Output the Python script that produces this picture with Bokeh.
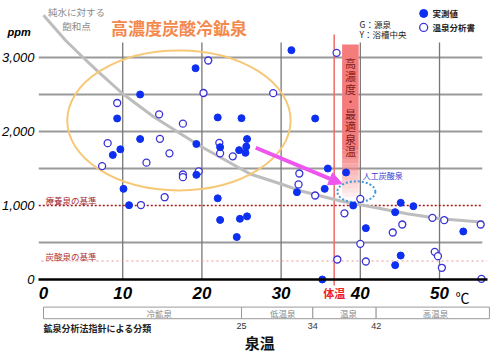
import numpy as np
from bokeh.plotting import figure
from bokeh.models import Range1d, FixedTicker, NumeralTickFormatter, Arrow, NormalHead
from bokeh.core.properties import value
from bokeh.embed import file_html
from bokeh.resources import INLINE

# ---------------- data ----------------
measured_temp = [9.3, 12.2, 19.2, 12.2, 19.3, 9.7, 8.75, 10.1, 10.8, 19.3, 31.3, 22.0, 25.0,
                 34.3, 25.7, 22.3, 25.6, 24.7, 25.5, 35.9, 38.2, 32.0, 35.5, 22.0, 22.3, 24.8,
                 25.7, 24.4, 35.2, 39.1, 45.1, 46.7, 44.4, 40.7, 53.0, 45.1, 44.4]
measured_co2 = [2176, 2500, 2855, 1898, 1831, 1759, 1683, 1225, 1004, 1414, 3099, 2190, 2180,
                2176, 1898, 1788, 1797, 1748, 1712, 1500, 1446, 1180, 1225, 1097, 805, 820,
                853, 574, 0, 1000, 1036, 991, 910, 694, 649, 324, 194]
report_temp = [20.8, 20.2, 9.3, 14.6, 17.6, 8.1, 14.7, 15.9, 13.0, 7.4, 17.6, 17.6, 19.6,
               15.3, 12.3, 37.0, 29.0, 22.2, 22.3, 23.9, 32.3, 32.2, 34.3, 38.0, 37.1, 40.0,
               49.1, 50.6, 55.2, 45.3, 44.1, 40.0, 49.4, 49.8, 40.7, 50.3, 55.3]
report_co2 = [2959, 2520, 2385, 2232, 2106, 1842, 1901, 1705, 1579, 1532, 1419, 1383, 1461,
              1112, 1006, 3063, 2518, 1847, 1705, 1664, 1432, 1284, 1135, 894, 270, 1090,
              833, 802, 743, 743, 635, 482, 374, 315, 243, 158, 9]
sat_temp = [0, 2.8, 5, 7, 10, 13.9, 17.3, 20, 24, 26.1, 30, 32.4, 37.5, 41.7, 45.9, 50.1, 55.6]
sat_co2 = [3570, 3230, 3000, 2800, 2510, 2200, 1970, 1790, 1550, 1425, 1290, 1200, 1060, 977, 888, 820, 772]

x_ticks = [0, 10, 20, 30, 40, 50]
y_ticks = [0, 1000, 2000, 3000]
grid_h = [500, 1500, 2000, 2500, 3000]
grid_v = [10, 20, 30, 40, 50]
class_bounds = [0, 25, 34, 42, 56.3]
class_names = ["冷鉱泉", "低温泉", "温泉", "高温泉"]
class_label_x = [14.6, 30.2, 38.5, 49.5]
class_tick_vals = [25, 34, 42]
class_tick_labels = ["25", "34", "42"]
medical_std = 1000
carbonated_std = 250
body_temp = 36.7
band_left, band_right = 37.7, 39.8
band_chars = ["高", "濃", "度", "・", "最", "適", "泉", "温"]

JP = value("Noto Sans CJK JP")
LAT = value("Liberation Sans")

p = figure(width=492, height=353, x_range=Range1d(-5.43, 56.69), y_range=Range1d(-1000, 3770),
           output_backend="svg", toolbar_location=None, min_border=0, outline_line_color=None)
p.grid.visible = False
p.background_fill_color = "white"
p.border_fill_color = "white"

# axes
xa = p.xaxis[0]
xa.fixed_location = 0
xa.ticker = FixedTicker(ticks=x_ticks)
xa.bounds = (-0.6, 56.1)
xa.axis_line_width = 2.5
xa.axis_line_color = "black"
xa.major_tick_out = 0
xa.major_tick_in = 0
xa.minor_tick_line_color = None
xa.major_label_standoff = 8
xa.major_label_text_font = "Liberation Sans"
xa.major_label_text_font_style = "bold italic"
xa.major_label_text_font_size = "17px"
xa.major_label_text_color = "black"

ya = p.yaxis[0]
ya.fixed_location = -0.63
ya.ticker = FixedTicker(ticks=y_ticks)
ya.formatter = NumeralTickFormatter(format="0,0")
ya.axis_line_color = None
ya.major_tick_out = 0
ya.major_tick_in = 0
ya.minor_tick_line_color = None
ya.major_label_standoff = 4
ya.major_label_text_font = "Liberation Sans"
ya.major_label_text_font_style = "italic"
ya.major_label_text_font_size = "13px"
ya.major_label_text_color = "black"

# grid
p.segment(x0=[-0.6] * len(grid_h), x1=[55.4] * len(grid_h), y0=grid_h, y1=grid_h,
          line_color="#9a9a9a", line_width=2)
p.segment(x0=grid_v, x1=grid_v, y0=[0] * len(grid_v), y1=[3203] * len(grid_v),
          line_color="#777777", line_width=1.3)

# optimal band with fade
p.quad(left=[band_left], right=[band_right], top=[3176], bottom=[1743],
       fill_color="#f47c7c", line_color=None)
edges = np.linspace(1743, 1060, 13)
alphas = np.linspace(0.92, 0.04, 12)
p.quad(left=[band_left] * 12, right=[band_right] * 12, top=edges[:-1], bottom=edges[1:],
       fill_color="#f47c7c", fill_alpha=alphas, line_color=None)
p.text(x=[(band_left + band_right) / 2] * len(band_chars),
       y=[2920 - 170 * i for i in range(len(band_chars))], text=band_chars,
       text_font=JP, text_font_size="11px", text_color="#7f1d1d",
       text_align="center", text_baseline="middle")

# body temperature line
p.segment(x0=[body_temp], x1=[body_temp], y0=[3310], y1=[-80], line_color="#f06a6a", line_width=1.5)

# standard lines
p.segment(x0=[-0.6], x1=[55.4], y0=[medical_std], y1=[medical_std],
          line_color="#a01818", line_width=1.5, line_dash="2 2")
p.segment(x0=[-0.25], x1=[56.0], y0=[carbonated_std], y1=[carbonated_std],
          line_color="#e89494", line_width=1, line_dash="2 3")

# saturation curve
p.line(sat_temp, sat_co2, line_color="#bdbdbd", line_width=3)

# ellipses
p.ellipse(x=[17.1], y=[2149], width=28.2, height=1892, fill_color=None,
          line_color="#f6c878", line_width=2)
p.ellipse(x=[39.5], y=[1185], width=4.8, height=284, fill_color=None,
          line_color="#3d9be0", line_width=2, line_dash="2 2")

# points
p.scatter(report_temp, report_co2, size=7, fill_color="white", line_color="#3a32d6", line_width=1.3)
p.scatter(measured_temp, measured_co2, size=7, fill_color="#0d2ff0", line_color="#0d2ff0")

# arrow
p.add_layout(Arrow(end=NormalHead(size=13, fill_color="#ee55ee", line_color="#ee55ee"),
                   x_start=26.8, y_start=1780, x_end=37.7, y_end=1293,
                   line_color="#ee55ee", line_width=4))

# legend (manual)
p.scatter([48.0], [3595], size=8, fill_color="#0d2ff0", line_color="#0d2ff0")
p.scatter([48.0], [3406], size=8, fill_color="white", line_color="#3a32d6", line_width=1.3)
p.text(x=[49.1, 49.1], y=[3595, 3406], text=["実測値", "温泉分析書"], text_font=JP,
       text_font_size="8.5px", text_font_style="bold", text_color="#222222",
       text_baseline="middle")
p.text(x=[39.9, 39.9], y=[3459, 3311], text=["G：源泉", "Y：浴槽中央"], text_font=JP,
       text_font_size="8.5px", text_color="#222222", text_baseline="middle")

# texts
p.text(x=[4.17, 4.17], y=[3608, 3432], text=["純水に対する", "飽和点"], text_font=JP,
       text_font_size="9.5px", text_color="#8a8a8a", text_align="center", text_baseline="middle")
p.text(x=[17.1], y=[3405], text=["高濃度炭酸冷鉱泉"], text_font=JP, text_font_size="17px",
       text_font_style="bold", text_color="#f4894b", text_align="center", text_baseline="middle")
p.text(x=[-4.55], y=[3338], text=["ppm"], text_font=LAT, text_font_size="11px",
       text_font_style="bold italic", text_color="black", text_baseline="middle")
p.text(x=[0.25], y=[1068], text=["療養泉の基準"], text_font=JP, text_font_size="8.5px",
       text_color="#a52a2a", text_baseline="middle")
p.text(x=[0.25], y=[324], text=["炭酸泉の基準"], text_font=JP, text_font_size="8.5px",
       text_color="#b03030", text_baseline="middle")
p.text(x=[40.3], y=[1405], text=["人工炭酸泉"], text_font=JP, text_font_size="8px",
       text_color="#3b3bd0", text_baseline="middle")
p.text(x=[body_temp], y=[-189], text=["体温"], text_font=JP, text_font_size="11px",
       text_font_style="bold", text_color="#ee2222", text_align="center", text_baseline="middle")
p.text(x=[52.9], y=[-243], text=["℃"], text_font=JP, text_font_size="14px",
       text_color="black", text_align="center", text_baseline="middle")

# classification bar
p.quad(left=class_bounds[:-1], right=class_bounds[1:], top=[-373] * 4, bottom=[-530] * 4,
       fill_color="white", line_color="#9a9a9a", line_width=1)
p.text(x=class_label_x, y=[-451] * 4, text=class_names, text_font=JP, text_font_size="8.5px",
       text_color="#888888", text_align="center", text_baseline="middle")
p.text(x=class_tick_vals, y=[-635] * 3, text=class_tick_labels, text_font=LAT,
       text_font_size="9px", text_color="#333333", text_align="center", text_baseline="middle")
p.text(x=[0], y=[-662], text=["鉱泉分析法指針による分類"], text_font=JP, text_font_size="9px",
       text_font_style="bold", text_color="#222222", text_baseline="middle")
p.text(x=[27.3], y=[-851], text=["泉温"], text_font=JP, text_font_size="15px",
       text_font_style="bold", text_color="#111111", text_align="center", text_baseline="middle")

open("out.html", "w").write(file_html(p, INLINE))
